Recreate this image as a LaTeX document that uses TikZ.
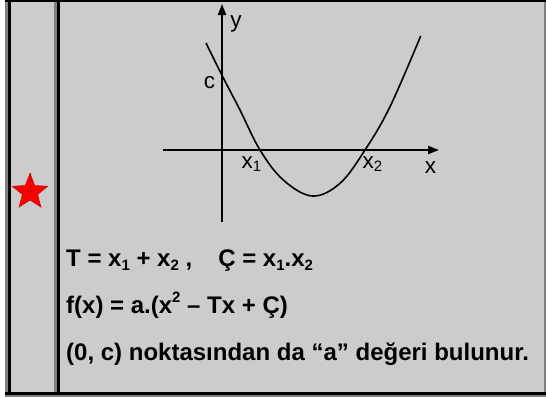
\documentclass[tikz,border=0pt]{standalone}
\usepackage{fontspec}
\setmainfont{Liberation Sans}
\usetikzlibrary{arrows.meta,shapes.geometric}
\definecolor{cellgray}{RGB}{204,204,204}
\definecolor{edgegray}{RGB}{128,128,128}
\definecolor{starred}{RGB}{255,0,0}
\definecolor{stardark}{RGB}{200,0,0}
\newcommand{\lo}[1]{\raisebox{-3.5pt}{\fontsize{15}{15}\selectfont #1}}
\newcommand{\glo}[1]{\raisebox{-3pt}{\fontsize{15}{15}\selectfont #1}}
\newcommand{\hi}[1]{\raisebox{11pt}{\fontsize{15}{15}\selectfont #1}}
\begin{document}
\begin{tikzpicture}[x=1pt,y=-1pt,
  axis/.style={line width=2pt,-{Triangle[length=11pt,width=8pt]}},
  curve/.style={line width=1.6pt},
  glabel/.style={anchor=base,inner sep=0pt,font=\fontsize{22.5}{24}\selectfont},
  tline/.style={anchor=base west,inner sep=0pt,font=\bfseries\fontsize{24}{28}\selectfont}]
\useasboundingbox (0,0) rectangle (546,397);
% frame
\fill[white] (0,0) rectangle (546,397);
\fill[cellgray] (5,0) rectangle (546,397);
\fill[black] (5,0) rectangle (546,2);
\fill[edgegray] (5,2) rectangle (7.5,392);
\fill[black] (7.5,2) rectangle (10.5,392);
\fill[edgegray] (54,2) rectangle (57,392);
\fill[black] (57,2) rectangle (59.5,392);
\fill[edgegray] (544,2) rectangle (546,397);
\fill[black] (5,391.5) rectangle (546,394.5);
\fill[edgegray] (5,394.5) rectangle (546,397);
% star
\node[star,star points=5,star point ratio=2.3,minimum size=37pt,inner sep=0pt,
  fill=starred,draw=stardark,line width=0.5pt] (st) at (30,192) {};
\foreach \i in {1,...,5}{\draw[stardark,line width=0.3pt] (st.center) -- (st.outer point \i);}
% axes
\coordinate (xs) at (163,150);
\coordinate (xe) at (439,150);
\coordinate (ys) at (222,222);
\coordinate (ye) at (222,4);
\draw[axis] (xs) -- (xe);
\draw[axis] (ys) -- (ye);
% parabola
\draw[curve] plot[smooth,tension=0.6] coordinates {(206,43) (222.7,76.7) (240,110) (260,150) (283.3,180) (312.3,196) (340,183.3) (365,150) (390,106.7) (420.7,36)};
% graph labels
\node[glabel] (ly) at (236,27) {y};
\node[glabel] (lc) at (209.5,88) {c};
\node[glabel,anchor=base west] (lx1) at (241.5,168) {x\glo{1}};
\node[glabel,anchor=base west] (lx2) at (362.5,168) {x\glo{2}};
\node[glabel] (lx) at (430.5,173) {x};
% text lines
\node[tline] (t1) at (66,266.7) {T = x\lo{1} + x\lo{2} ,\hspace{26pt}Ç = x\lo{1}.x\lo{2}};
\node[tline] (t2) at (66,313) {f(x) = a.(x\hi{2} – Tx + Ç)};
\node[tline] (t3) at (66,360) {(0, c) noktasından da “a” değeri bulunur.};
\end{tikzpicture}
\end{document}
